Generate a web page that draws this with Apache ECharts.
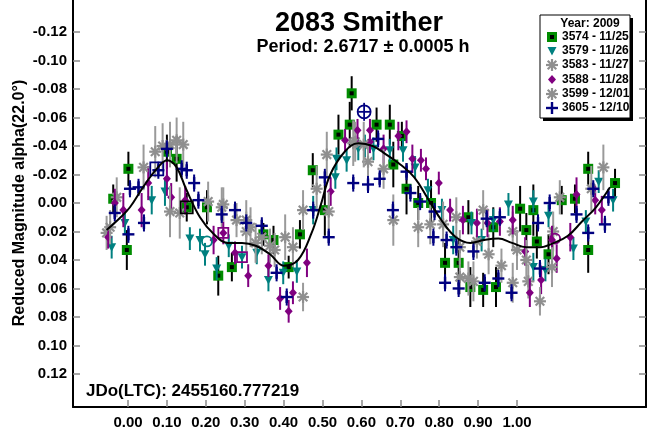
<!DOCTYPE html>
<html>
<head>
<meta charset="utf-8">
<script src="https://cdn.jsdelivr.net/npm/echarts@6/dist/echarts.min.js"></script>
<style>html,body{margin:0;padding:0;background:#fff}#c{width:654px;height:435px}</style>
</head>
<body>
<div id="c"></div>
<script>
// ---- data (phase, reduced magnitude, error) ----
const xTicks = [0.0, 0.1, 0.2, 0.3, 0.4, 0.5, 0.6, 0.7, 0.8, 0.9, 1.0];
const yTicks = [-0.12, -0.10, -0.08, -0.06, -0.04, -0.02, 0.0, 0.02, 0.04, 0.06, 0.08, 0.10, 0.12];

const s3574 = [
[-0.038,-0.003,0.010],[0.001,-0.024,0.012],[-0.003,0.033,0.014],[0.100,-0.036,0.012],[0.125,-0.031,0.016],
[0.151,0.003,0.010],[0.203,0.003,0.012],[0.232,0.051,0.014],[0.267,0.045,0.010],[0.348,0.022,0.008],
[0.374,0.026,0.010],[0.413,0.045,0.008],[0.442,0.022,0.010],[0.475,-0.023,0.012],[0.506,0.005,0.018],
[0.541,-0.048,0.014],[0.570,-0.055,0.016],[0.575,-0.077,0.012],[0.639,-0.055,0.012],[0.673,-0.055,0.014],
[0.682,-0.027,0.016],[0.704,-0.047,0.010],[0.716,-0.010,0.018],[0.746,0.000,0.012],[0.779,0.000,0.016],
[0.815,0.042,0.014],[0.850,0.042,0.016],[0.875,0.010,0.012],[0.880,0.059,0.014],[0.913,0.061,0.012],
[0.939,0.017,0.014],[0.946,0.059,0.014],[1.008,0.004,0.016],[1.024,0.019,0.012],[1.042,0.005,0.018],
[1.051,0.027,0.012],[1.081,0.036,0.014],[1.115,-0.002,0.010],[1.149,-0.003,0.010],[1.183,-0.024,0.012],
[1.183,0.033,0.016],[1.252,-0.014,0.010]
];
const s3579 = [
[-0.042,0.031,0.008],[-0.008,0.014,0.008],[0.061,-0.002,0.010],[0.095,-0.008,0.010],[0.159,0.025,0.008],
[0.185,0.026,0.008],[0.198,0.036,0.008],[0.228,0.046,0.008],[0.259,0.030,0.008],[0.293,0.038,0.008],
[0.331,0.035,0.008],[0.361,0.054,0.008],[0.399,0.049,0.008],[0.434,0.048,0.008],[0.476,0.005,0.010],
[0.533,-0.018,0.008],[0.536,-0.031,0.008],[0.562,-0.030,0.008],[0.592,-0.038,0.008],[0.609,-0.040,0.008],
[0.631,-0.038,0.008],[0.673,-0.037,0.008],[0.707,-0.037,0.008],[0.738,-0.025,0.008],[0.771,-0.009,0.008],
[0.807,0.005,0.008],[0.836,0.026,0.010],[0.883,0.014,0.008],[0.909,0.026,0.008],[0.939,0.012,0.008],
[0.978,0.001,0.008],[1.042,-0.001,0.008],[1.042,0.045,0.010],[1.073,0.047,0.008],[1.081,0.009,0.008],
[1.145,0.032,0.008],[1.177,0.013,0.008],[1.210,-0.015,0.008],[1.247,-0.002,0.008]
];
const s3583 = [
[-0.055,0.021,0.012],[-0.029,-0.004,0.014],[0.070,-0.036,0.018],[0.142,-0.041,0.016],[0.133,0.007,0.018],
[0.241,0.003,0.014],[0.279,0.012,0.012],[0.315,0.017,0.014],[0.377,0.033,0.012],[0.424,0.031,0.014],
[0.450,0.066,0.010],[0.511,-0.034,0.016],[0.584,-0.043,0.014],[0.617,-0.029,0.016],[0.682,0.012,0.018],
[0.777,0.015,0.014],[0.844,0.010,0.014],[0.853,0.052,0.012],[0.897,0.027,0.012],[0.927,0.036,0.014],
[0.989,0.020,0.014],[1.029,0.055,0.012],[1.093,0.020,0.014],[1.110,-0.004,0.012],[1.222,-0.025,0.016],
[0.089,-0.040,0.016],[0.304,0.020,0.014],[0.365,0.030,0.012],[1.000,0.033,0.014]
];
const s3588 = [
[-0.051,0.024,0.008],[-0.034,0.000,0.010],[-0.012,0.005,0.012],[0.035,0.005,0.012],[0.052,-0.014,0.012],
[0.100,-0.017,0.012],[0.111,-0.004,0.010],[0.147,-0.002,0.010],[0.220,0.026,0.010],[0.245,0.021,0.008],
[0.275,0.035,0.008],[0.309,0.051,0.008],[0.361,0.044,0.008],[0.391,0.067,0.008],[0.413,0.076,0.008],
[0.424,0.063,0.008],[0.460,0.042,0.010],[0.521,-0.008,0.010],[0.558,-0.044,0.008],[0.590,-0.051,0.008],
[0.622,-0.051,0.008],[0.622,-0.043,0.008],[0.657,-0.038,0.010],[0.695,-0.047,0.010],[0.716,-0.050,0.008],
[0.731,-0.031,0.010],[0.753,-0.030,0.008],[0.766,-0.024,0.008],[0.799,-0.014,0.008],[0.828,0.005,0.008],
[0.861,0.012,0.010],[0.897,0.014,0.010],[0.924,0.014,0.010],[0.956,0.013,0.010],[0.989,0.012,0.010],
[1.021,0.034,0.010],[1.033,0.063,0.010],[1.062,0.054,0.010],[1.090,0.026,0.010],[1.102,0.039,0.010],
[1.137,0.024,0.010],[1.153,-0.006,0.012],[1.201,-0.002,0.010],[1.218,0.005,0.010]
];
const s3599 = [
[-0.046,0.017,0.012],[0.040,-0.025,0.016],[0.108,-0.041,0.016],[0.108,0.006,0.018],[0.206,-0.001,0.014],
[0.245,0.001,0.012],[0.304,0.012,0.014],[0.344,0.024,0.012],[0.404,0.024,0.016],[0.450,0.005,0.014],
[0.485,-0.010,0.016],[0.516,0.006,0.014],[0.579,-0.042,0.016],[0.606,-0.041,0.016],[0.657,-0.024,0.014],
[0.746,0.017,0.014],[0.810,0.015,0.016],[0.853,0.031,0.012],[0.875,0.053,0.012],[0.888,0.055,0.014],
[0.913,0.005,0.014],[0.960,0.044,0.012],[0.989,0.056,0.014],[1.059,0.069,0.010],[1.090,0.045,0.014],
[1.191,-0.010,0.016],[0.125,-0.044,0.016],[0.328,0.028,0.014],[1.024,0.040,0.014]
];
const s3605 = [
[-0.034,0.007,0.006],[0.001,0.022,0.006],[0.005,-0.010,0.006],[0.027,-0.011,0.006],[0.041,0.014,0.006],
[0.078,-0.023,0.006],[0.100,-0.038,0.006],[0.138,-0.024,0.006],[0.151,-0.023,0.006],[0.170,-0.014,0.006],
[0.181,-0.002,0.006],[0.241,0.008,0.006],[0.275,0.005,0.006],[0.304,0.014,0.006],[0.344,0.016,0.006],
[0.382,0.049,0.006],[0.408,0.066,0.006],[0.476,0.005,0.006],[0.506,-0.018,0.006],[0.516,0.024,0.006],
[0.579,-0.014,0.006],[0.617,-0.013,0.006],[0.643,-0.045,0.006],[0.647,-0.017,0.006],[0.681,0.005,0.006],
[0.716,-0.022,0.006],[0.726,-0.007,0.006],[0.751,-0.001,0.006],[0.785,0.024,0.006],[0.788,0.006,0.006],
[0.815,0.056,0.006],[0.819,0.026,0.006],[0.844,0.031,0.006],[0.850,0.060,0.006],[0.888,0.034,0.006],
[0.917,0.056,0.006],[0.922,0.011,0.006],[0.952,0.053,0.006],[0.956,0.010,0.006],[0.986,0.063,0.006],
[1.054,0.014,0.006],[1.059,0.046,0.006],[1.084,0.000,0.006],[1.153,0.008,0.006],[1.183,0.021,0.006],
[1.196,-0.010,0.006],[1.226,0.015,0.006],[1.235,-0.004,0.006]
];
// session start points (hollow markers)
const navyCirclePts = [[0.607,-0.064]];
const navySquarePts = [[0.074,-0.024]];
const blackSquarePts = [[0.151,0.003]];
const tealCirclePts = [[0.203,0.027]];
const purpleSquarePts = [[0.245,0.021],[0.293,0.038]];
const purpleCirclePts = [[1.098,0.025]];

// fitted Fourier curve
const curvePts = [
[-0.055,0.019],[-0.019,0.010],[0.005,0.003],[0.041,-0.012],[0.077,-0.025],[0.101,-0.030],[0.125,-0.025],
[0.149,-0.010],[0.185,0.010],[0.221,0.022],[0.256,0.028],[0.293,0.028],[0.328,0.030],[0.365,0.036],
[0.400,0.044],[0.437,0.040],[0.472,0.021],[0.496,0.001],[0.520,-0.020],[0.557,-0.036],[0.592,-0.042],
[0.629,-0.040],[0.664,-0.034],[0.700,-0.027],[0.736,-0.018],[0.771,-0.003],[0.808,0.013],[0.843,0.024],
[0.880,0.028],[0.915,0.026],[0.952,0.025],[0.987,0.028],[1.024,0.031],[1.059,0.031],[1.095,0.028],
[1.131,0.023],[1.167,0.013],[1.203,0.003],[1.239,-0.011]
];

const legendItems = ['3574 - 11/25','3579 - 11/26','3583 - 11/27','3588 - 11/28','3599 - 12/01','3605 - 12/10'];

// ---- marker drawing ----
const FONT = '"Liberation Sans", Arial, sans-serif';
const GREEN = '#008c00', TEAL = '#008080', GRAY = '#8f8f8f', PURPLE = '#800080', NAVY = '#000080';

function mSquare(x, y) {
  return [
    {type:'rect', shape:{x:x-5,y:y-5,width:10,height:10}, style:{fill:GREEN}},
    {type:'rect', shape:{x:x-2,y:y-2,width:4,height:4}, style:{fill:'#000'}}
  ];
}
function mTri(x, y) {
  return [{type:'polygon', shape:{points:[[x-4.5,y-4],[x+4.5,y-4],[x,y+4.5]]}, style:{fill:TEAL}}];
}
function mStar(x, y) {
  const r = 6, d = 4.3, st = {stroke:GRAY, lineWidth:2.2};
  return [
    {type:'line', shape:{x1:x-r,y1:y,x2:x+r,y2:y}, style:st},
    {type:'line', shape:{x1:x,y1:y-r,x2:x,y2:y+r}, style:st},
    {type:'line', shape:{x1:x-d,y1:y-d,x2:x+d,y2:y+d}, style:st},
    {type:'line', shape:{x1:x-d,y1:y+d,x2:x+d,y2:y-d}, style:st}
  ];
}
function mDiamond(x, y) {
  return [{type:'polygon', shape:{points:[[x,y-4.5],[x+4,y],[x,y+4.5],[x-4,y]]}, style:{fill:PURPLE}}];
}
function mPlus(x, y) {
  const r = 6, st = {stroke:NAVY, lineWidth:2.4};
  return [
    {type:'line', shape:{x1:x-r,y1:y,x2:x+r,y2:y}, style:st},
    {type:'line', shape:{x1:x,y1:y-r,x2:x,y2:y+r}, style:st}
  ];
}

function errSeries(name, data, marker, barColor, z) {
  return {
    type:'custom', name, data, z, encode:{x:0, y:1},
    renderItem(params, api) {
      const x = api.value(0), y = api.value(1), e = api.value(2);
      const p = api.coord([x, y]);
      const t = api.coord([x, y - e]);
      const b = api.coord([x, y + e]);
      return {type:'group', children:[
        {type:'line', shape:{x1:p[0],y1:t[1],x2:p[0],y2:b[1]}, style:{stroke:barColor, lineWidth:2}}
      ].concat(marker(p[0], p[1]))};
    }
  };
}
function hollowSeries(data, draw, z) {
  return {
    type:'custom', data, z, encode:{x:0, y:1},
    renderItem(params, api) {
      const p = api.coord([api.value(0), api.value(1)]);
      return {type:'group', children: draw(p[0], p[1])};
    }
  };
}

const chart = echarts.init(document.getElementById('c'), null, {renderer:'canvas'});

const X_MIN = -0.1414, X_MAX = 1.3316, Y_MIN = -0.1425, Y_MAX = 0.1432;
const tickStyle = {show:true, inside:true, length:7, lineStyle:{color:'#8a8a8a', width:1.5}};
const labelFont = {fontFamily:FONT, fontWeight:'bold', fontSize:15, color:'#000'};

// legend graphic
const LX = 540, LY = 15, LW = 90, LH = 103;
const legendRows = [37, 51, 65, 79.5, 94, 108];
const legendMarkers = [mSquare, mTri, mStar, mDiamond, mStar, mPlus];
const legendChildren = [
  {type:'rect', shape:{x:LX+3,y:LY+3,width:LW,height:LH}, style:{fill:'#000'}},
  {type:'rect', shape:{x:LX,y:LY,width:LW,height:LH}, style:{fill:'#fff', stroke:'#000', lineWidth:1}},
  {type:'text', x:LX+LW/2+5, y:23.5, style:{text:'Year: 2009', font:'bold 12px ' + FONT, fill:'#000', align:'center', verticalAlign:'middle'}}
];
legendItems.forEach((t, i) => {
  legendChildren.push(...legendMarkers[i](552, legendRows[i]));
  legendChildren.push({type:'text', x:562, y:legendRows[i], style:{text:t, font:'bold 12px ' + FONT, fill:'#000', align:'left', verticalAlign:'middle'}});
});

chart.setOption({
  animation:false,
  backgroundColor:'#fff',
  grid:{left:73, right:8, top:0, bottom:28, containLabel:false},
  xAxis:{
    type:'value', min:X_MIN, max:X_MAX,
    axisLine:{show:true, onZero:false, lineStyle:{color:'#000', width:2}},
    axisTick:Object.assign({}, tickStyle, {customValues:xTicks}),
    axisLabel:Object.assign({}, labelFont, {customValues:xTicks, margin:8, formatter:v => v.toFixed(2)}),
    splitLine:{show:false}
  },
  yAxis:[{
    type:'value', min:Y_MIN, max:Y_MAX, inverse:true, position:'left',
    axisLine:{show:true, onZero:false, lineStyle:{color:'#000', width:2}},
    axisTick:Object.assign({}, tickStyle, {customValues:yTicks}),
    axisLabel:Object.assign({}, labelFont, {customValues:yTicks, margin:6, formatter:v => v.toFixed(2)}),
    splitLine:{show:false}
  },{
    type:'value', min:Y_MIN, max:Y_MAX, inverse:true, position:'right',
    axisLine:{show:true, onZero:false, lineStyle:{color:'#000', width:2}},
    axisTick:Object.assign({}, tickStyle, {customValues:yTicks}),
    axisLabel:{show:false},
    splitLine:{show:false}
  }],
  series:[
    errSeries('3574 - 11/25', s3574, mSquare, '#000', 2),
    errSeries('3579 - 11/26', s3579, mTri, TEAL, 2),
    errSeries('3583 - 11/27', s3583, mStar, '#9a9a9a', 2),
    errSeries('3588 - 11/28', s3588, mDiamond, PURPLE, 2),
    errSeries('3599 - 12/01', s3599, mStar, '#9a9a9a', 2),
    errSeries('3605 - 12/10', s3605, mPlus, NAVY, 2),
    hollowSeries(navyCirclePts, (x,y)=>[
      {type:'circle', shape:{cx:x,cy:y,r:6.5}, style:{fill:'none', stroke:NAVY, lineWidth:1.8}},
      {type:'line', shape:{x1:x-6,y1:y,x2:x+6,y2:y}, style:{stroke:NAVY, lineWidth:1.8}},
      {type:'line', shape:{x1:x,y1:y-9,x2:x,y2:y+9}, style:{stroke:NAVY, lineWidth:1.8}}], 3),
    hollowSeries(navySquarePts, (x,y)=>[
      {type:'rect', shape:{x:x-6.5,y:y-6.5,width:13,height:13}, style:{fill:'none', stroke:NAVY, lineWidth:1.8}}], 3),
    hollowSeries(blackSquarePts, (x,y)=>[
      {type:'rect', shape:{x:x-6,y:y-6,width:12,height:12}, style:{fill:'none', stroke:'#000', lineWidth:1.8}}], 3),
    hollowSeries(tealCirclePts, (x,y)=>[
      {type:'circle', shape:{cx:x,cy:y,r:5}, style:{fill:'none', stroke:TEAL, lineWidth:1.8}}], 3),
    hollowSeries(purpleSquarePts, (x,y)=>[
      {type:'rect', shape:{x:x-5,y:y-5,width:10,height:10}, style:{fill:'none', stroke:PURPLE, lineWidth:1.8}}], 3),
    hollowSeries(purpleCirclePts, (x,y)=>[
      {type:'circle', shape:{cx:x,cy:y,r:5}, style:{fill:'none', stroke:PURPLE, lineWidth:1.8}}], 3),
    {
      type:'line', data:curvePts, smooth:0.4, symbol:'none', z:4,
      lineStyle:{color:'#000', width:2}
    }
  ],
  graphic:[
    {type:'text', x:359, y:24, style:{text:'2083 Smither', font:'bold 27px ' + FONT, fill:'#000', align:'center', verticalAlign:'middle'}},
    {type:'text', x:363, y:47, style:{text:'Period: 2.6717 \u00b1 0.0005 h', font:'bold 18px ' + FONT, fill:'#000', align:'center', verticalAlign:'middle'}},
    {type:'text', x:20, y:203, rotation:Math.PI/2, style:{text:'Reduced Magnitude alpha(22.0\u00b0)', font:'bold 16px ' + FONT, fill:'#000', align:'center', verticalAlign:'middle'}},
    {type:'text', x:86, y:391, style:{text:'JDo(LTC): 2455160.777219', font:'bold 17px ' + FONT, fill:'#000', align:'left', verticalAlign:'middle'}},
    {type:'group', z:100, children:legendChildren}
  ]
});
</script>
</body>
</html>
